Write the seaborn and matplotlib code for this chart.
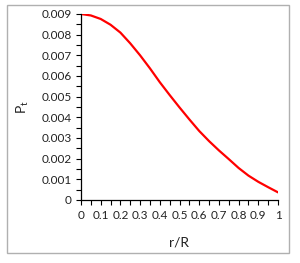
import numpy as np
import pandas as pd
import seaborn as sns
import matplotlib.pyplot as plt
from matplotlib.patches import Rectangle
from matplotlib.ticker import MultipleLocator

# valeurs (pas de 0.05)
r_sur_R = [0.0, 0.05, 0.1, 0.15, 0.2, 0.25, 0.3, 0.35, 0.4, 0.45, 0.5,
           0.55, 0.6, 0.65, 0.7, 0.75, 0.8, 0.85, 0.9, 0.95, 1.0]
p_t = [0.0090, 0.00893, 0.00876, 0.00848, 0.0081, 0.00758, 0.0070, 0.00637, 0.0057, 0.00508, 0.00448,
       0.0039, 0.00334, 0.00285, 0.0024, 0.00198, 0.00155, 0.00118, 0.00088, 0.00062, 0.00037]
x_ticks = [0, 0.1, 0.2, 0.3, 0.4, 0.5, 0.6, 0.7, 0.8, 0.9, 1]
x_labels = ["0", "0.1", "0.2", "0.3", "0.4", "0.5", "0.6", "0.7", "0.8", "0.9", "1"]
y_ticks = [0, 0.001, 0.002, 0.003, 0.004, 0.005, 0.006, 0.007, 0.008, 0.009]
y_labels = ["0", "0.001", "0.002", "0.003", "0.004", "0.005", "0.006", "0.007", "0.008", "0.009"]

df = pd.DataFrame({"r/R": r_sur_R, "Pt": p_t})

sns.set_style("ticks")
plt.rcParams["font.family"] = ["Lato", "DejaVu Sans"]

fig = plt.figure(figsize=(3.0, 2.63), dpi=100)
# cadre gris autour du graphique
fig.patches.append(Rectangle((7 / 300, 1 - 253 / 263), 282 / 300, 248 / 263,
                             transform=fig.transFigure, fill=False,
                             edgecolor="#b0b0b0", linewidth=1))

ax = fig.add_axes([81 / 300, 1 - 200 / 263, 197 / 300, 186 / 263])
sns.lineplot(data=df, x="r/R", y="Pt", color="red", linewidth=1.6, ax=ax)

ax.set_xlim(0, 1)
ax.set_ylim(0, 0.009)
ax.set_xticks(x_ticks)
ax.set_xticklabels(x_labels)
ax.set_yticks(y_ticks)
ax.set_yticklabels(y_labels)
ax.xaxis.set_minor_locator(MultipleLocator(0.05))
ax.yaxis.set_minor_locator(MultipleLocator(0.0005))
ax.tick_params(which="both", direction="out", length=3.5, width=0.8, color="black",
               labelsize=8.5, labelcolor="#222222")
ax.tick_params(axis="x", pad=4)
ax.tick_params(axis="y", pad=3)

for side in ["top", "right"]:
    ax.spines[side].set_visible(False)
for side in ["left", "bottom"]:
    ax.spines[side].set_color("black")
    ax.spines[side].set_linewidth(0.9)

ax.set_xlabel("r/R", fontsize=10, color="#222222", labelpad=11)
ax.set_ylabel("P$_\\mathregular{t}$", fontsize=10, color="#222222", labelpad=8)

fig.savefig("out.png", dpi=100)
plt.close()
